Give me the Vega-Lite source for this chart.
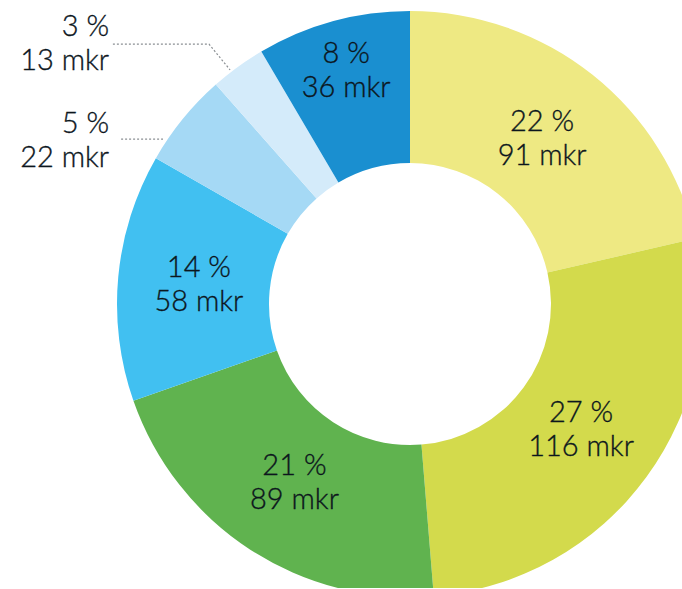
{
  "$schema": "https://vega.github.io/schema/vega-lite/v6.json",
  "width": 544,
  "height": 568,
  "autosize": {"type": "none"},
  "padding": {"left": 138, "top": 20, "right": 0, "bottom": 0},
  "background": "white",
  "config": {
    "view": {"stroke": null},
    "text": {"font": "Lato", "fontSize": 29, "fontWeight": 300, "lineHeight": 34, "color": "#0c161d", "stroke": "#0c161d", "strokeWidth": 0.35, "lineBreak": "\n", "dy": -16}
  },
  "datasets": {
    "segments": [
      {"rank": 1, "pct": 22, "mkr": 91},
      {"rank": 2, "pct": 27, "mkr": 116},
      {"rank": 3, "pct": 21, "mkr": 89},
      {"rank": 4, "pct": 14, "mkr": 58},
      {"rank": 5, "pct": 5, "mkr": 22},
      {"rank": 6, "pct": 3, "mkr": 13},
      {"rank": 7, "pct": 8, "mkr": 36}
    ],
    "leaders": [
      {"rank": 6, "seq": 1, "x": -101.4, "y": 88.7},
      {"rank": 6, "seq": 2, "x": -68.6, "y": 88.7},
      {"rank": 6, "seq": 3, "x": -61.4, "y": 79.9},
      {"rank": 5, "seq": 1, "x": -98.6, "y": 56.3},
      {"rank": 5, "seq": 2, "x": -84.3, "y": 56.3}
    ],
    "callouts": [
      {"rank": 6, "x": -102.7, "y": 89.1},
      {"rank": 5, "x": -102.7, "y": 56.1}
    ]
  },
  "layer": [
    {
      "data": {"name": "segments"},
      "mark": {"type": "arc", "outerRadius": 293, "innerRadius": 141, "stroke": null},
      "encoding": {
        "theta": {"field": "mkr", "type": "quantitative", "stack": true},
        "order": {"field": "rank", "type": "quantitative"},
        "color": {
          "field": "rank",
          "type": "ordinal",
          "scale": {
            "domain": [1, 2, 3, 4, 5, 6, 7],
            "range": ["#eee983", "#d3da4c", "#60b34f", "#41c0f1", "#a5d9f5", "#d4ebfa", "#1a8fd0"]
          },
          "legend": null
        }
      }
    },
    {
      "data": {"name": "segments"},
      "transform": [
        {"calculate": "datum.pct + ' %\\n' + datum.mkr + ' mkr'", "as": "label"}
      ],
      "mark": {"type": "text", "radius": 212, "align": "center", "baseline": "middle"},
      "encoding": {
        "theta": {"field": "mkr", "type": "quantitative", "stack": true},
        "order": {"field": "rank", "type": "quantitative"},
        "text": {"field": "label", "type": "nominal"},
        "opacity": {"condition": {"test": "datum.rank <= 4", "value": 1}, "value": 0}
      }
    },
    {
      "data": {"name": "segments"},
      "transform": [
        {"calculate": "datum.pct + ' %\\n' + datum.mkr + ' mkr'", "as": "label"}
      ],
      "mark": {"type": "text", "radius": 243, "align": "center", "baseline": "middle"},
      "encoding": {
        "theta": {"field": "mkr", "type": "quantitative", "stack": true},
        "order": {"field": "rank", "type": "quantitative"},
        "text": {"field": "label", "type": "nominal"},
        "opacity": {"condition": {"test": "datum.rank == 7", "value": 1}, "value": 0}
      }
    },
    {
      "data": {"name": "leaders"},
      "mark": {"type": "line", "stroke": "#8a8f93", "strokeWidth": 1.2, "strokeDash": [2, 2]},
      "encoding": {
        "x": {"field": "x", "type": "quantitative", "scale": {"domain": [-92.83, 92.83], "nice": false, "zero": false}, "axis": null},
        "y": {"field": "y", "type": "quantitative", "scale": {"domain": [-96.93, 96.93], "nice": false, "zero": false}, "axis": null},
        "detail": {"field": "rank", "type": "nominal"},
        "order": {"field": "seq", "type": "quantitative"}
      }
    },
    {
      "data": {"name": "callouts"},
      "transform": [
        {"lookup": "rank", "from": {"data": {"name": "segments"}, "key": "rank", "fields": ["pct", "mkr"]}},
        {"calculate": "datum.pct + ' %\\n' + datum.mkr + ' mkr'", "as": "label"}
      ],
      "mark": {"type": "text", "align": "right", "baseline": "middle"},
      "encoding": {
        "x": {"field": "x", "type": "quantitative"},
        "y": {"field": "y", "type": "quantitative"},
        "text": {"field": "label", "type": "nominal"}
      }
    }
  ]
}
